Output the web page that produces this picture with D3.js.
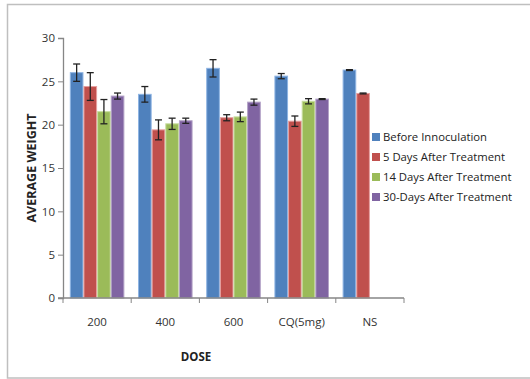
<!DOCTYPE html>
<html><head><meta charset="utf-8">
<script src="https://cdn.jsdelivr.net/npm/d3@7"></script>
<style>body{margin:0;background:#fff}svg{display:block}</style>
</head><body>
<script>
const categories = ["200", "400", "600", "CQ(5mg)", "NS"];
const seriesNames = ["Before Innoculation", "5 Days After Treatment", "14 Days After Treatment", "30-Days After Treatment"];
const beforeVals = [26.0, 23.5, 26.5, 25.6, 26.3];
const day5Vals   = [24.4, 19.4, 20.8, 20.4, 23.6];
const day14Vals  = [21.5, 20.1, 20.9, 22.7, null];
const day30Vals  = [23.3, 20.45, 22.6, 22.95, null];
const beforeErr = [1.0, 0.9, 1.0, 0.3, 0.05];
const day5Err   = [1.6, 1.15, 0.35, 0.6, 0.05];
const day14Err  = [1.4, 0.65, 0.55, 0.3, 0];
const day30Err  = [0.35, 0.3, 0.35, 0.05, 0];
const yTicks = [0, 5, 10, 15, 20, 25, 30];
const colors = ["#4F81BD", "#C0504D", "#9BBB59", "#8064A2"];
const strokes = ["#8EB4E3", "#E6A0A0", "#C8DDA0", "#B3A2C7"];

const values = [beforeVals, day5Vals, day14Vals, day30Vals];
const errs = [beforeErr, day5Err, day14Err, day30Err];

const W = 530, H = 379;
const svg = d3.select("body").append("svg").attr("width", W).attr("height", H);
svg.append("rect").attr("x", 7.5).attr("y", 4.5).attr("width", W).attr("height", H - 5.5)
  .attr("fill", "#fff").attr("stroke", "#bfbfbf").attr("stroke-width", 1.5);

const x0 = d3.scaleBand().domain(categories).range([63, 404]).paddingInner(0).paddingOuter(0);
const x1 = d3.scaleBand().domain(d3.range(4)).range([0, x0.bandwidth()]).paddingOuter(0.5).paddingInner(0);
const y = d3.scaleLinear().domain([0, 30]).range([298, 38]);

const font = "'Open Sans', 'Liberation Sans', sans-serif";

// bars
const g = svg.append("g");
values.forEach((vals, si) => {
  vals.forEach((v, ci) => {
    if (v == null) return;
    const bx = x0(categories[ci]) + x1(si);
    g.append("rect").attr("x", bx + 0.5).attr("y", y(v))
      .attr("width", x1.bandwidth() - 1).attr("height", y(0) - y(v))
      .attr("fill", colors[si]).attr("stroke", strokes[si]).attr("stroke-width", 1);
  });
});
// error bars
values.forEach((vals, si) => {
  vals.forEach((v, ci) => {
    if (v == null) return;
    const e = errs[si][ci];
    const cx = x0(categories[ci]) + x1(si) + x1.bandwidth() / 2;
    const eg = g.append("g").attr("stroke", "#222").attr("stroke-width", 1.3);
    eg.append("line").attr("x1", cx).attr("x2", cx).attr("y1", y(v + e)).attr("y2", y(v - e));
    eg.append("line").attr("x1", cx - 3.5).attr("x2", cx + 3.5).attr("y1", y(v + e)).attr("y2", y(v + e));
    eg.append("line").attr("x1", cx - 3.5).attr("x2", cx + 3.5).attr("y1", y(v - e)).attr("y2", y(v - e));
  });
});

// y axis
const yAxis = svg.append("g").attr("transform", "translate(63,0)")
  .call(d3.axisLeft(y).tickValues(yTicks).tickSize(5).tickPadding(3));
yAxis.select(".domain").attr("stroke", "#868686").attr("stroke-width", 1.3);
yAxis.selectAll(".tick line").attr("stroke", "#868686");
yAxis.selectAll("text").attr("font-family", font).attr("font-size", 11.5).attr("fill", "#333");

// x axis
const xAxis = svg.append("g").attr("transform", "translate(0,298)");
xAxis.append("line").attr("x1", 58).attr("x2", 404).attr("y1", 0).attr("y2", 0)
  .attr("stroke", "#868686").attr("stroke-width", 1.3);
categories.forEach((c, i) => {
  const xs = x0(c);
  xAxis.append("line").attr("x1", xs).attr("x2", xs).attr("y1", 0).attr("y2", 5).attr("stroke", "#868686");
  xAxis.append("text").attr("x", xs + x0.bandwidth() / 2).attr("y", 28)
    .attr("text-anchor", "middle").attr("font-family", font).attr("font-size", 11.5).attr("fill", "#333").text(c);
});
xAxis.append("line").attr("x1", 404).attr("x2", 404).attr("y1", 0).attr("y2", 5).attr("stroke", "#868686");

// axis titles
svg.append("text").attr("transform", "translate(36,168) rotate(-90)").attr("text-anchor", "middle")
  .attr("font-family", font).attr("font-size", 12.5).attr("font-weight", "bold").attr("fill", "#222")
  .text("AVERAGE WEIGHT");
svg.append("text").attr("x", 196).attr("y", 361).attr("text-anchor", "middle")
  .attr("font-family", font).attr("font-size", 11.5).attr("font-weight", "bold").attr("fill", "#222")
  .text("DOSE");

// legend
const leg = svg.append("g");
seriesNames.forEach((n, i) => {
  const ly = 137 + i * 20;
  leg.append("rect").attr("x", 372).attr("y", ly - 4).attr("width", 8).attr("height", 8).attr("fill", colors[i]);
  leg.append("text").attr("x", 383).attr("y", ly + 4).attr("font-family", font).attr("font-size", 11.3)
    .attr("fill", "#222").text(n);
});
</script>
</body></html>
